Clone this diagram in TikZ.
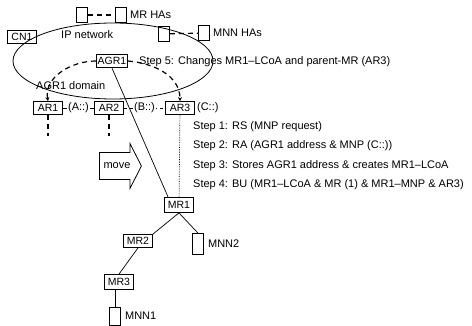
\documentclass[tikz,border=0pt]{standalone}
\usepackage{fontspec}
\setmainfont{Liberation Sans}
\usetikzlibrary{arrows.meta,positioning,shapes.arrows}

\begin{document}
\begin{tikzpicture}[
      x=1pt,y=-1pt,
      font=\fontsize{11}{13}\selectfont,
      rbox/.style={draw,line width=0.8pt,minimum width=29pt,minimum height=13pt,inner sep=1pt,
                   font=\fontsize{10.5}{12}\selectfont},
      hbox/.style={draw,line width=0.8pt,minimum width=11pt,minimum height=15pt,inner sep=0pt},
      lbl/.style={anchor=west,inner sep=1pt},
      dsh/.style={line width=1.2pt,dash pattern=on 5pt off 4pt},
      ar/.style={-{Stealth[length=4pt,width=4pt]},dsh},
      ln/.style={line width=0.7pt}
    ]
    \useasboundingbox (0,0) rectangle (472,326);

    % IP network
    \draw[line width=0.8pt] (113,61) ellipse [x radius=100,y radius=38];
    \node[rbox] (cn1) at (22,37) {CN1};
    \node[lbl] (ipn) at (60,35) {IP network};

    % home agents
    \node[hbox] (ha1) at (82,15) {};
    \node[hbox] (ha2) at (121,15) {};
    \node[lbl,right=2pt of ha2] (mrha) {MR HAs};
    \node[hbox] (ha3) at (164,34) {};
    \node[hbox] (ha4) at (204,33) {};
    \node[lbl,right=2pt of ha4] (mnnha) {MNN HAs};
    \draw[dsh] (ha1) -- (ha2);
    \draw[dsh] (ha3) -- (ha4);

    % AGR1 domain
    \node[rbox,line width=1.4pt] (agr1) at (112,61) {AGR1};
    \node[lbl] (s5) at (138,62) {Step 5: Changes MR1--LCoA and parent-MR (AR3)};
    \node[lbl] (dom) at (35,86) {AGR1 domain};

    \node[rbox] (ar1) at (48,108) {AR1};
    \node[rbox] (ar2) at (109,108) {AR2};
    \node[rbox] (ar3) at (180,108) {AR3};
    \node[lbl,right=1pt of ar3] (pc) {(C::)};
    \draw[ln] (ar1) -- (ar2) node[midway,fill=white,inner sep=1pt] (pa) {(A::)};
    \draw[ln,dashed] (ar2) -- (ar3) node[midway,fill=white,inner sep=1pt] (pb) {(B::)};

    \draw[ar] (agr1.west) to[out=180,in=100] (ar1.north);
    \draw[ar] (agr1.east) to[out=-5,in=90] (ar3.north);

    \coordinate (ar1d) at (48,136);
    \coordinate (ar2d) at (109,136);
    \draw[dsh] (ar1) -- (ar1d);
    \draw[dsh] (ar2) -- (ar2d);

    % movement
    \node[draw,line width=0.8pt,single arrow,single arrow head extend=9pt,
          single arrow tip angle=126,single arrow head indent=0pt,
          inner xsep=2pt,inner ysep=10pt,minimum height=42pt] (mv) at (117,166) {move};

    % steps
    \node[lbl] (st1) at (192,127) {Step 1: RS (MNP request)};
    \node[lbl] (st2) at (192,146) {Step 2: RA (AGR1 address \& MNP (C::))};
    \node[lbl] (st3) at (192,166) {Step 3: Stores AGR1 address \& creates MR1--LCoA};
    \node[lbl] (st4) at (192,185) {Step 4: BU (MR1--LCoA \& MR (1) \& MR1--MNP \& AR3)};

    % mobile network
    \node[rbox,minimum height=15pt] (mr1) at (179,205) {MR1};
    \node[rbox] (mr2) at (138,241) {MR2};
    \node[rbox,minimum height=15pt] (mr3) at (119,282) {MR3};
    \node[hbox,minimum height=21pt] (mnn2) at (198,244) {};
    \node[lbl,right=3pt of mnn2] (mnn2t) {MNN2};
    \node[hbox,minimum height=18pt] (mnn1) at (115,316) {};
    \node[lbl,right=3pt of mnn1] (mnn1t) {MNN1};

    \draw[ln] (agr1.south) -- ([xshift=4pt]mr1.north west);
    \draw[ln,densely dotted] (ar3) -- (mr1);
    \draw[ln] (mr1.south) -- (mr2.north east);
    \draw[ln] (mr1.south) -- (mnn2.north);
    \draw[ln] (mr2.south) -- (mr3.north);
    \draw[ln] (mr3.south -| mnn1.north) -- (mnn1.north);
  \end{tikzpicture}
\end{document}
